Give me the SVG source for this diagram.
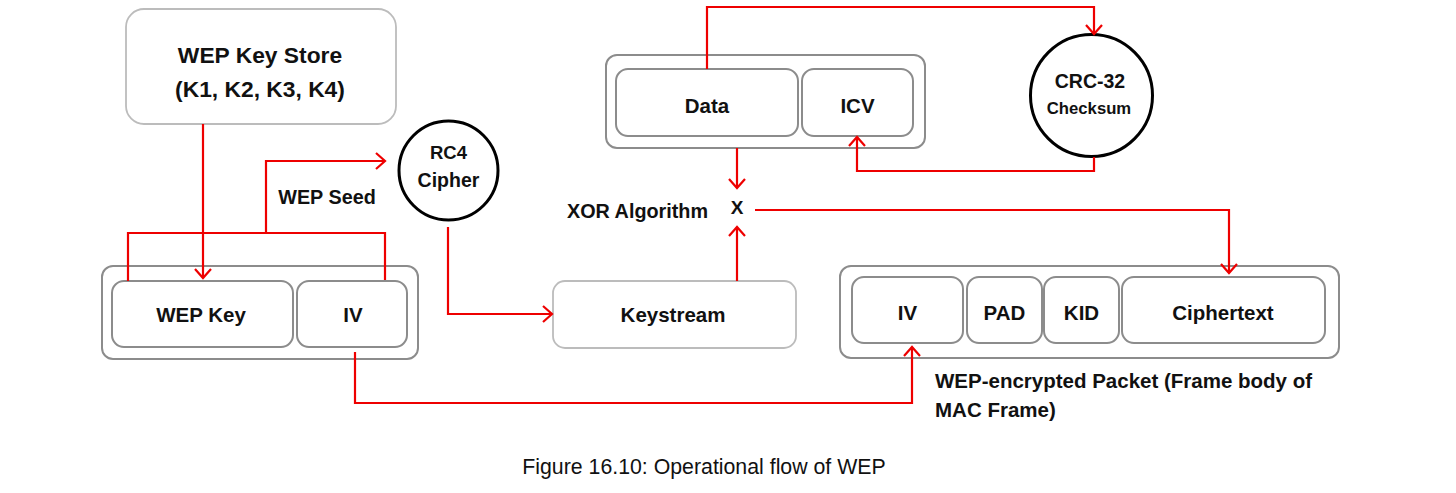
<svg xmlns="http://www.w3.org/2000/svg" width="1456" height="493" viewBox="0 0 1456 493">
<defs>
<marker id="arr" markerUnits="userSpaceOnUse" markerWidth="20" markerHeight="20" viewBox="0 0 20 20" refX="11" refY="10" orient="auto">
<path d="M2,2 L11,10 L2,18" fill="none" stroke="#ee0000" stroke-width="2.2"/>
</marker>
<style>
text{font-family:"Liberation Sans",Arial,sans-serif;font-weight:bold;fill:#111;text-anchor:middle}
.outer{fill:#fff;stroke:#8c8c8c;stroke-width:2}
.inner{fill:#fff;stroke:#8c8c8c;stroke-width:2}
.light{fill:#fff;stroke:#bcbcbc;stroke-width:1.8}
.circ{fill:#fff;stroke:#000;stroke-width:3}
.lbl{font-size:20.5px}
.wire{fill:none;stroke:#ee0000;stroke-width:2.2}
.arrow{marker-end:url(#arr)}
</style>
</defs>
<rect width="1456" height="493" fill="#fff"/>

<g id="keystore">
<rect class="light" x="126" y="9" width="270" height="115" rx="18"/>
<text x="260" y="63" style="font-size:22.8px">WEP Key Store</text>
<text x="260" y="97" style="font-size:22.8px">(K1, K2, K3, K4)</text>
</g>

<g id="rc4">
<circle class="circ" cx="448.5" cy="170.5" r="49.5"/>
<text x="448.5" y="159" style="font-size:18.5px">RC4</text>
<text x="448.5" y="187" style="font-size:19.5px">Cipher</text>
</g>

<g id="seed-label">
<text x="327" y="204" style="font-size:19.8px">WEP Seed</text>
</g>

<g id="key-iv">
<rect class="outer" x="102" y="266" width="316" height="93" rx="11"/>
<rect class="inner" x="112" y="281" width="181" height="66" rx="12"/>
<text class="lbl" x="201" y="322">WEP Key</text>
<rect class="inner" x="297" y="281" width="110" height="66" rx="12"/>
<text class="lbl" x="353" y="322">IV</text>
</g>

<g id="keystream">
<rect class="light" x="553" y="281" width="243" height="67" rx="12"/>
<text class="lbl" x="673" y="322">Keystream</text>
</g>

<g id="data-icv">
<rect class="outer" x="606" y="55" width="319" height="93" rx="11"/>
<rect class="inner" x="616" y="69" width="182" height="67" rx="12"/>
<text class="lbl" x="707" y="113">Data</text>
<rect class="inner" x="802" y="69" width="111" height="67" rx="12"/>
<text class="lbl" x="857.5" y="113">ICV</text>
</g>

<g id="crc">
<circle class="circ" cx="1091.5" cy="95.5" r="61"/>
<text x="1090" y="88" style="font-size:19.5px">CRC-32</text>
<text x="1089" y="114" style="font-size:16.7px">Checksum</text>
</g>

<g id="xor">
<text x="737" y="214" style="font-size:19px">X</text>
<text x="637.5" y="218" style="font-size:19.8px">XOR Algorithm</text>
</g>

<g id="packet">
<rect class="outer" x="840" y="266" width="499" height="92" rx="11"/>
<rect class="inner" x="852" y="277" width="111" height="66" rx="12"/>
<text class="lbl" x="907.5" y="320">IV</text>
<rect class="inner" x="967" y="277" width="75" height="66" rx="12"/>
<text class="lbl" x="1004.5" y="320">PAD</text>
<rect class="inner" x="1044" y="277" width="75" height="66" rx="12"/>
<text class="lbl" x="1081.5" y="320">KID</text>
<rect class="inner" x="1122" y="277" width="203" height="66" rx="12"/>
<text class="lbl" x="1223" y="320">Ciphertext</text>
<text class="lbl" x="935" y="388" style="text-anchor:start">WEP-encrypted Packet (Frame body of</text>
<text class="lbl" x="935" y="417" style="text-anchor:start">MAC Frame)</text>
</g>

<g id="connectors">
<path class="wire arrow" d="M203,124 V278"/>
<path class="wire" d="M128,281 V233 H385 V280"/>
<path class="wire arrow" d="M266,233 V161 H385"/>
<path class="wire arrow" d="M448,227 V314 H552"/>
<path class="wire arrow" d="M355,352 V403 H912 V347"/>
<path class="wire arrow" d="M737,281 V227"/>
<path class="wire arrow" d="M737,148 V188"/>
<path class="wire arrow" d="M707,69 V7 H1094 V34"/>
<path class="wire arrow" d="M1094,157 V171 H857 V137"/>
<path class="wire arrow" d="M755,210 H1229 V273"/>
</g>

<g id="caption">
<text x="704" y="474" style="font-size:21.3px;font-weight:normal">Figure 16.10: Operational flow of WEP</text>
</g>
</svg>
